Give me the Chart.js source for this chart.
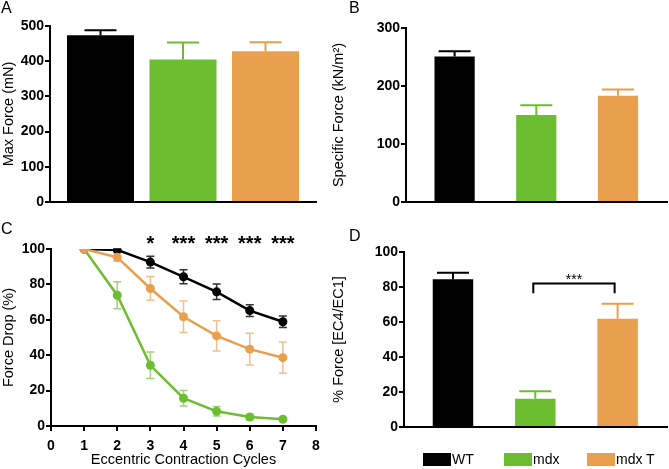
<!DOCTYPE html>
<html><head><meta charset="utf-8">
<script src="https://cdn.jsdelivr.net/npm/chart.js@4.4.0/dist/chart.umd.min.js"></script>
<style>
html,body{margin:0;padding:0;background:#fff;}
body{width:669px;height:469px;position:relative;overflow:hidden;font-family:'Liberation Sans',Arial,sans-serif;}
canvas{position:absolute;}
.lbl{position:absolute;font-size:16px;line-height:16px;color:#000;}
.leg{position:absolute;top:453px;height:13px;width:28px;}
.legt{position:absolute;top:452px;font-size:14px;line-height:15px;}
</style></head>
<body>
<canvas id="cA" width="330" height="215" style="left:0;top:0"></canvas>
<canvas id="cB" width="339" height="215" style="left:330px;top:0"></canvas>
<canvas id="cC" width="330" height="254" style="left:0;top:215px"></canvas>
<canvas id="cD" width="339" height="254" style="left:330px;top:215px"></canvas>
<div class="lbl" style="left:1px;top:0">A</div>
<div class="lbl" style="left:349px;top:0">B</div>
<div class="lbl" style="left:1px;top:221px">C</div>
<div class="lbl" style="left:349px;top:228px">D</div>
<div class="leg" style="left:423px;background:#000"></div><div class="legt" style="left:452px">WT</div>
<div class="leg" style="left:504px;background:#6dbd30"></div><div class="legt" style="left:533px">mdx</div>
<div class="leg" style="left:587px;background:#e8a04e"></div><div class="legt" style="left:616px">mdx T</div>
<script>
// ---- data ----
const groups = ['WT', 'mdx', 'mdx T'];
const groupColors = ['#000000', '#6dbd30', '#e8a04e'];
const maxForce = [474, 405, 428];
const maxForceSem = [14, 48, 26];
const specificForce = [251, 150, 183];
const specificForceSem = [9, 17, 11];
const pctForce = [84.4, 16.2, 61.8];
const pctForceSem = [3.8, 4.2, 8.6];
const cycles = [1, 2, 3, 4, 5, 6, 7];
const wtDrop = [100, 99.5, 92.6, 84.3, 75.8, 65.2, 58.9];
const wtDropSem = [0, 0.6, 3.3, 4.0, 4.4, 3.3, 3.2];
const mdxDrop = [100, 73.9, 34.3, 15.7, 8.3, 5.1, 3.8];
const mdxDropSem = [0, 7.6, 7.5, 4.4, 2.7, 1.5, 0.8];
const mdxTDrop = [100, 95.3, 77.7, 61.7, 50.9, 43.4, 38.6];
const mdxTDropSem = [0, 2.2, 6.7, 8.9, 8.5, 9.0, 8.8];
const sigC = ['', '', '*', '***', '***', '***', '***'];
const yTicksA = [0, 500, 100];
const yTicksB = [0, 300, 100];
const yTicksC = [0, 100, 20];
const xTicksC = [0, 8, 1];
const yTicksD = [0, 100, 20];

const FONT = "'Liberation Sans', Arial, sans-serif";
Chart.defaults.font.family = FONT;
Chart.defaults.color = '#000';

const errorBars = {
  id: 'errorBars',
  beforeDatasetsDraw(chart) { draw(chart, 'both'); },
  afterDatasetsDraw(chart) { draw(chart, 'up'); }
};
function draw(chart, mode) {
  const ctx = chart.ctx, ys = chart.scales.y;
  chart.data.datasets.forEach((ds, i) => {
    if (!ds.sem || ds.errMode !== mode) return;
    const meta = chart.getDatasetMeta(i);
    meta.data.forEach((el, j) => {
      const d = ds.data[j];
      const v = typeof d === 'object' ? d.y : d;
      const e = ds.sem[j];
      if (!e) return;
      const col = Array.isArray(ds.errColor) ? ds.errColor[j] : ds.errColor;
      const hw = ds.capHalf;
      const x = el.x;
      const yt = ys.getPixelForValue(v + e);
      const yb = mode === 'both' ? ys.getPixelForValue(v - e) : ys.getPixelForValue(v);
      ctx.save();
      ctx.strokeStyle = col; ctx.lineWidth = ds.errWidth;
      ctx.beginPath();
      ctx.moveTo(x, yb); ctx.lineTo(x, yt);
      ctx.moveTo(x - hw, yt); ctx.lineTo(x + hw, yt);
      if (mode === 'both') { ctx.moveTo(x - hw, yb); ctx.lineTo(x + hw, yb); }
      ctx.stroke();
      ctx.restore();
    });
  });
}

function yAxis(t, title, width) {
  return {
    min: t[0], max: t[1],
    ticks: { stepSize: t[2], font: { size: 14, weight: 'bold' }, padding: 1, color: '#000' },
    grid: { drawOnChartArea: false, drawTicks: true, tickLength: 5, color: '#000', lineWidth: 2 },
    border: { color: '#000', width: 2 },
    title: { display: true, text: title, font: { size: 14.5 }, padding: { top: 0, bottom: 4 }, color: '#000' },
    afterFit: s => { s.width = width; }
  };
}
function barX(min, max) {
  return {
    type: 'linear', min: min, max: max, offset: false,
    ticks: { display: false },
    grid: { display: false },
    border: { color: '#000', width: 2 },
    afterFit: s => { s.height = 0; }
  };
}
function barChart(id, values, sem, yt, title, pad, xr, bp, yw, extra) {
  return new Chart(document.getElementById(id), {
    type: 'bar',
    data: {
      labels: groups,
      datasets: [{
        data: values.map((v, i) => ({ x: i, y: v })),
        backgroundColor: groupColors,
        borderWidth: 0,
        barPercentage: bp, categoryPercentage: 1,
        sem: sem, errMode: 'up', errColor: groupColors, errWidth: 2, capHalf: 16
      }]
    },
    options: {
      responsive: false, animation: false, devicePixelRatio: 1,
      layout: { padding: pad },
      plugins: { legend: { display: false }, tooltip: { enabled: false } },
      scales: { x: barX(xr[0], xr[1]), y: yAxis(yt, title, yw) }
    },
    plugins: extra ? [errorBars, extra] : [errorBars]
  });
}

barChart('cA', maxForce, maxForceSem, yTicksA, 'Max Force (mN)',
  { top: 26, right: 14, bottom: 13, left: 0 }, [-0.612, 2.612], 0.812, 50);
barChart('cB', specificForce, specificForceSem, yTicksB, 'Specific Force (kN/m\u00B2)',
  { top: 28, right: 2, bottom: 13, left: 0 }, [-0.595, 2.6], 0.82, 76);

// Panel D with bracket
const bracketD = {
  id: 'bracketD',
  afterDatasetsDraw(chart) {
    const ctx = chart.ctx, xs = chart.scales.x, ys = chart.scales.y;
    const x1 = xs.getPixelForValue(1) - 2, x2 = xs.getPixelForValue(2) - 3;
    const yTop = ys.getPixelForValue(82), yBot = ys.getPixelForValue(76.5);
    ctx.save();
    ctx.strokeStyle = '#000'; ctx.lineWidth = 2;
    ctx.beginPath();
    ctx.moveTo(x1, yBot); ctx.lineTo(x1, yTop); ctx.lineTo(x2, yTop); ctx.lineTo(x2, yBot);
    ctx.stroke();
    ctx.font = '14px ' + FONT; ctx.fillStyle = '#000'; ctx.textAlign = 'center'; ctx.textBaseline = 'alphabetic';
    ctx.fillText('***', (x1 + x2) / 2, yTop - 0);
    ctx.restore();
  }
};
barChart('cD', pctForce, pctForceSem, yTicksD, '% Force [EC4/EC1]',
  { top: 37, right: 2, bottom: 42, left: 0 }, [-0.595, 2.6], 0.82, 74, bracketD);

// Panel C line chart
const sigPlugin = {
  id: 'sig',
  afterDatasetsDraw(chart) {
    const ctx = chart.ctx, xs = chart.scales.x;
    ctx.save();
    ctx.font = 'bold 20px ' + FONT; ctx.fillStyle = '#000'; ctx.textAlign = 'center'; ctx.textBaseline = 'alphabetic';
    sigC.forEach((s, i) => { if (s) ctx.fillText(s, xs.getPixelForValue(cycles[i]), chart.chartArea.top + 1); });
    ctx.restore();
  }
};
function lineDs(vals, sem, col, errCol, order) {
  return {
    data: cycles.map((c, i) => ({ x: c, y: vals[i] })),
    borderColor: col, backgroundColor: col, pointBackgroundColor: col, pointBorderColor: col,
    borderWidth: 2.5, pointRadius: 4.5, pointBorderWidth: 0, tension: 0,
    sem: sem, errMode: 'both', errColor: errCol, errWidth: 1.5, capHalf: 4, order: order
  };
}
new Chart(document.getElementById('cC'), {
  type: 'line',
  data: {
    datasets: [
      lineDs(wtDrop, wtDropSem, '#000000', '#333333', 2),
      lineDs(mdxDrop, mdxDropSem, '#6dbd30', '#9fd47a', 1),
      lineDs(mdxTDrop, mdxTDropSem, '#e8a04e', '#f0c08e', 0)
    ]
  },
  options: {
    responsive: false, animation: false, devicePixelRatio: 1,
    layout: { padding: { top: 34, right: 14, bottom: 0, left: 0 } },
    plugins: { legend: { display: false }, tooltip: { enabled: false } },
    scales: {
      x: {
        type: 'linear', min: xTicksC[0], max: xTicksC[1],
        ticks: { stepSize: xTicksC[2], font: { size: 14, weight: 'bold' }, padding: 7, color: '#000' },
        grid: { drawOnChartArea: false, drawTicks: true, tickLength: 5, color: '#000', lineWidth: 2 },
        border: { color: '#000', width: 2 },
        title: { display: true, text: 'Eccentric Contraction Cycles', font: { size: 14.5 }, padding: { top: 0, bottom: 0 }, color: '#000' },
        afterFit: s => { s.height = 43; }
      },
      y: yAxis(yTicksC, 'Force Drop (%)', 51)
    }
  },
  plugins: [errorBars, sigPlugin]
});
</script>
</body></html>
